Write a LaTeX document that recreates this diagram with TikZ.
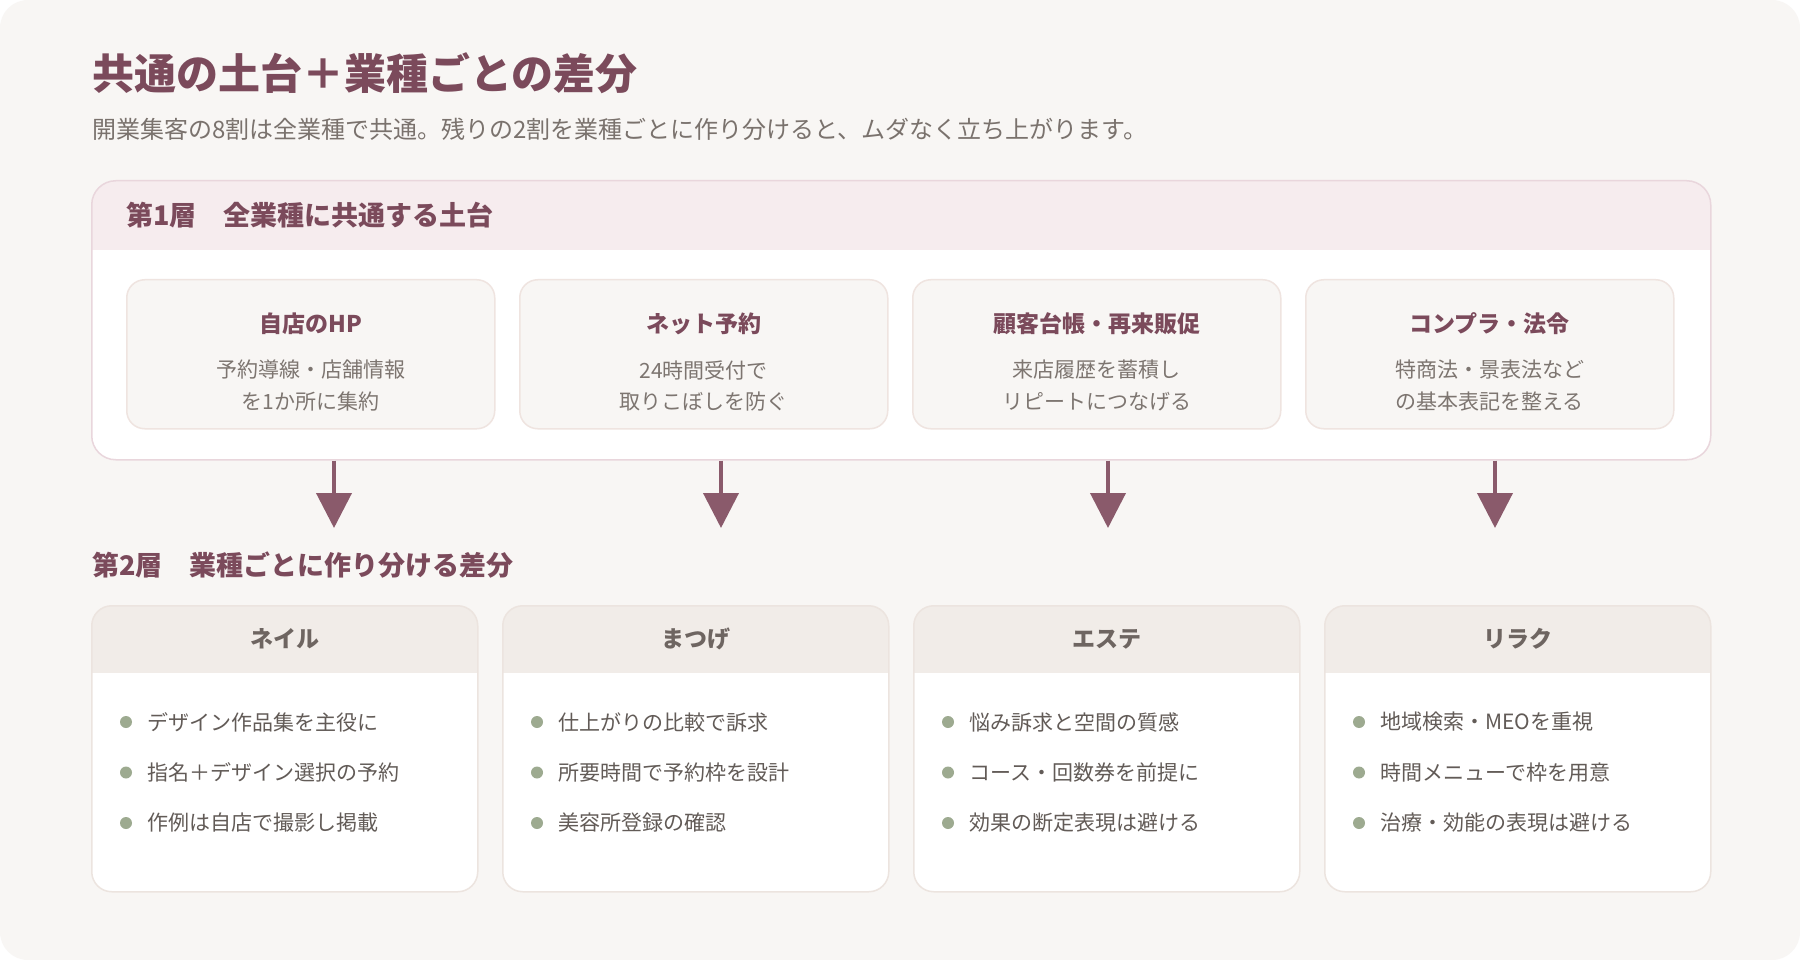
\documentclass[tikz,border=0pt]{standalone}
\usepackage{fontspec}
\setmainfont{Noto Sans CJK JP}
\usetikzlibrary{arrows.meta,positioning}

\definecolor{pagebg}{HTML}{F8F6F4}
\definecolor{plum}{HTML}{7B4A5B}
\definecolor{arrowc}{HTML}{8A5A6B}
\definecolor{subgrey}{HTML}{7A726D}
\definecolor{bodygrey}{HTML}{7D7570}
\definecolor{hdpink}{HTML}{F6ECEE}
\definecolor{pinkline}{HTML}{E9D6DC}
\definecolor{cardfill}{HTML}{F8F6F4}
\definecolor{cardline}{HTML}{EFE4E0}
\definecolor{hdbeige}{HTML}{F1ECE8}
\definecolor{beigeline}{HTML}{ECE4DF}
\definecolor{hdtext}{HTML}{6E6561}
\definecolor{dotgreen}{HTML}{9DAA90}
\definecolor{listtext}{HTML}{625B57}

\tikzset{
  layerbox/.style={draw=pinkline, line width=1.5pt, fill=white, rounded corners=24pt,
    anchor=north west, inner sep=0pt, minimum width=1619pt, minimum height=279pt,
    path picture={\fill[hdpink, sharp corners] (path picture bounding box.north west)
      rectangle ([yshift=-69pt]path picture bounding box.north east);}},
  basecard/.style={draw=cardline, line width=1.5pt, fill=cardfill, rounded corners=18pt,
    anchor=north west, inner sep=0pt, minimum width=368pt, minimum height=149pt},
  kindcard/.style={draw=beigeline, line width=1.5pt, fill=white, rounded corners=20pt,
    anchor=north west, inner sep=0pt, minimum width=386pt, minimum height=286pt,
    path picture={\fill[hdbeige, sharp corners] (path picture bounding box.north west)
      rectangle ([yshift=-67pt]path picture bounding box.north east);}},
  layerhead/.style={anchor=west, inner sep=0pt, text=plum, font=\fontsize{27}{32}\selectfont\bfseries},
  cardtitle/.style={inner sep=0pt, text=plum, font=\fontsize{23}{28}\selectfont\bfseries},
  cardtext/.style={inner sep=0pt, text=bodygrey, font=\fontsize{21}{26}\selectfont},
  kindtitle/.style={inner sep=0pt, text=hdtext, font=\fontsize{23}{28}\selectfont\bfseries},
  dot/.style={circle, fill=dotgreen, inner sep=0pt, minimum size=12pt},
  item/.style={anchor=west, inner sep=0pt, text=listtext, font=\fontsize{21}{26}\selectfont},
  flow/.style={draw=arrowc, line width=4pt, -{Triangle[width=35pt,length=35pt]}, arrowc}
}

\begin{document}
\begin{tikzpicture}[x=1pt,y=-1pt]

  % page: 1800 x 960, one unit = one pixel
  \useasboundingbox (0,0) rectangle (1800,960);
  \fill[white] (0,0) rectangle (1800,960);
  \fill[pagebg, rounded corners=28pt] (0,0) rectangle (1800,960);

  % heading
  \node[anchor=west, inner sep=0pt, text=plum, font=\fontsize{42}{48}\selectfont\bfseries]
    (title) at (92,73) {共通の土台＋業種ごとの差分};
  \node[anchor=west, inner sep=0pt, text=subgrey, font=\fontsize{24}{30}\selectfont]
    (lead) at (92,129) {開業集客の8割は全業種で共通。残りの2割を業種ごとに作り分けると、ムダなく立ち上がります。};

  % layer 1: common base
  \node[layerbox] (l1) at (91,180) {};
  \node[layerhead] (l1head) at (126,215) {第1層　全業種に共通する土台};

  \foreach \i/\ttl/\la/\lb [evaluate=\i as \x using 126+393*(\i-1)] in {
      1/自店のHP/予約導線・店舗情報/を1か所に集約,
      2/ネット予約/24時間受付で/取りこぼしを防ぐ,
      3/顧客台帳・再来販促/来店履歴を蓄積し/リピートにつなげる,
      4/コンプラ・法令/特商法・景表法など/の基本表記を整える}
  {
    \node[basecard] (c\i) at (\x,279) {};
    \node[cardtitle] (ct\i) at ([yshift=-45pt]c\i.north) {\ttl};
    \node[cardtext] (cl\i) at ([yshift=-91pt]c\i.north) {\la};
    \node[cardtext] (cm\i) at ([yshift=-123pt]c\i.north) {\lb};
  }

  % arrows down to layer 2
  \foreach \i in {1,...,4}
  {
    \coordinate (tip\i) at (334+387*\i-387,528);
    \draw[flow] (l1.south -| tip\i) -- (tip\i);
  }

  % layer 2: per-business differences
  \node[layerhead] (l2head) at (92,565) {第2層　業種ごとに作り分ける差分};

  \foreach \i/\hd/\pa/\pb/\pc [evaluate=\i as \x using 91+411*(\i-1)] in {
      1/ネイル/デザイン作品集を主役に/指名＋デザイン選択の予約/作例は自店で撮影し掲載,
      2/まつげ/仕上がりの比較で訴求/所要時間で予約枠を設計/美容所登録の確認,
      3/エステ/悩み訴求と空間の質感/コース・回数券を前提に/効果の断定表現は避ける,
      4/リラク/地域検索・MEOを重視/時間メニューで枠を用意/治療・効能の表現は避ける}
  {
    \node[kindcard] (k\i) at (\x,605) {};
    \node[kindtitle] (kh\i) at ([yshift=-34pt]k\i.north) {\hd};
    \foreach \j/\txt in {1/\pa,2/\pb,3/\pc}
    {
      \node[dot] (kd\i\j) at (\x+35,722+50.5*\j-50.5) {};
      \node[item, right=15pt of kd\i\j] (kt\i\j) {\txt};
    }
  }

\end{tikzpicture}
\end{document}
